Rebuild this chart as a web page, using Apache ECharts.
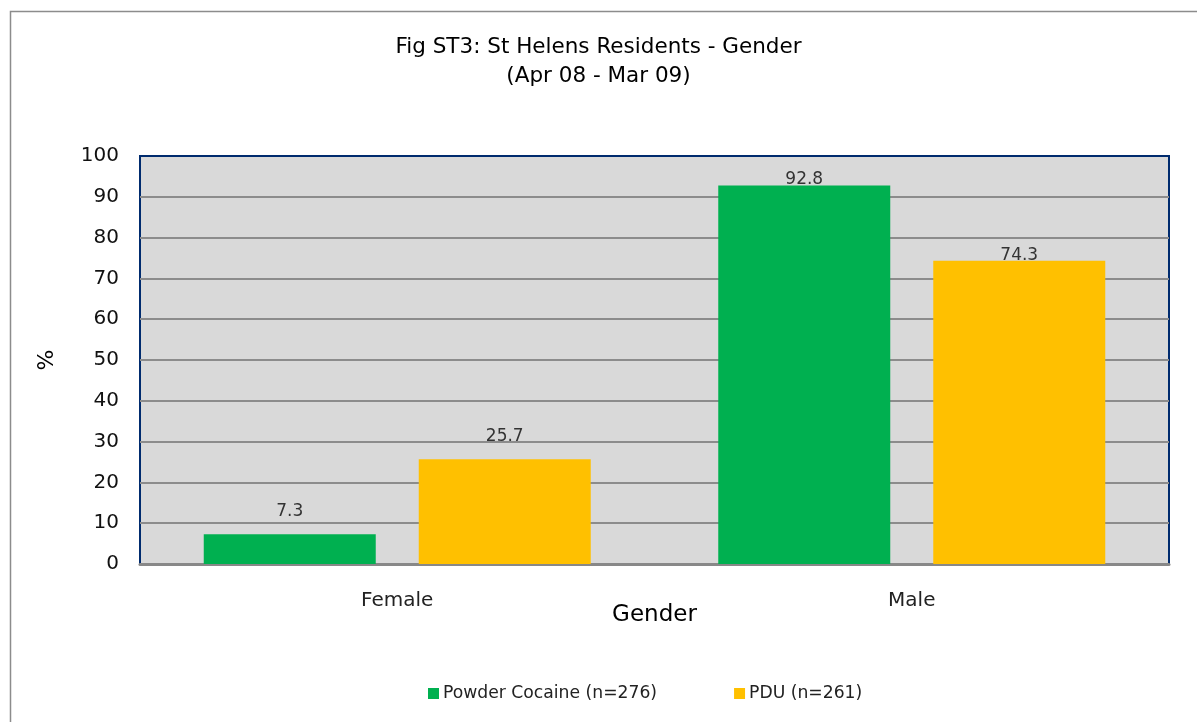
<!DOCTYPE html>
<html><head><meta charset="utf-8">
<script src="https://cdn.jsdelivr.net/npm/echarts@6/dist/echarts.min.js"></script>
<style>html,body{margin:0;padding:0;background:#fff}#c{width:1197px;height:722px}</style>
</head><body><div id="c"></div>
<script>
const categories = ['Female', 'Male'];
const seriesNames = ['Powder Cocaine (n=276)', 'PDU (n=261)'];
const cocaine = [7.3, 92.8];
const pdu = [25.7, 74.3];
const yTicks = [0, 10, 20, 30, 40, 50, 60, 70, 80, 90, 100];

const FONT = '"DejaVu Sans", sans-serif';
const labelDist = [14, -3];
function mk(vals) {
  return vals.map((v, i) => ({ value: v, label: { distance: labelDist[i] } }));
}
const chart = echarts.init(document.getElementById('c'));
chart.setOption({
  animation: false,
  textStyle: { fontFamily: FONT },
  title: {
    text: 'Fig ST3: St Helens Residents - Gender\n(Apr 08 - Mar 09)',
    left: 'center', top: 28,
    textStyle: { fontSize: 21.5, fontWeight: 'normal', color: '#000', lineHeight: 29, fontFamily: FONT }
  },
  graphic: [{
    type: 'rect', shape: { x: 10.5, y: 11.5, width: 1300, height: 800 },
    style: { fill: 'none', stroke: '#8c8c8c', lineWidth: 1.5 }, silent: true, z: -10
  }],
  legend: {
    bottom: 15, left: 423, itemGap: 77, itemWidth: 11, itemHeight: 11, itemGap: 77,
    icon: 'rect',
    textStyle: { fontSize: 17.2, color: '#222', fontFamily: FONT, padding: [0, 0, 0, -1] }
  },
  grid: {
    left: 140, top: 156, right: 28, bottom: 158,
    show: true, backgroundColor: '#d9d9d9', borderColor: '#002b6e', borderWidth: 2
  },
  xAxis: {
    type: 'category', data: categories,
    name: 'Gender', nameLocation: 'middle', nameGap: 40, nameMoveOverlap: false,
    nameTextStyle: { fontSize: 23, color: '#000', fontFamily: FONT },
    axisLine: { lineStyle: { color: '#888', width: 3 } },
    axisTick: { show: false },
    axisLabel: { fontSize: 20, color: '#222', margin: 27, fontFamily: FONT }
  },
  yAxis: {
    type: 'value', min: 0, max: 100, interval: 10,
    name: '%', nameLocation: 'middle', nameGap: 82, nameRotate: 90,
    nameTextStyle: { fontSize: 22, color: '#000', fontFamily: FONT },
    axisLine: { show: false }, axisTick: { show: false },
    axisLabel: { fontSize: 20, color: '#111', margin: 21, fontFamily: FONT,
      formatter: v => yTicks.includes(v) ? String(v) : '' },
    splitLine: { showMaxLine: false, lineStyle: { color: '#8c8c8c', width: 2 } }
  },
  series: [
    { name: seriesNames[0], type: 'bar', data: mk(cocaine), barWidth: 172, barGap: '25%',
      itemStyle: { color: '#00b050' },
      label: { show: true, position: 'top', fontSize: 17, color: '#333', fontFamily: FONT } },
    { name: seriesNames[1], type: 'bar', data: mk(pdu), barWidth: 172,
      itemStyle: { color: '#ffc000' },
      label: { show: true, position: 'top', fontSize: 17, color: '#333', fontFamily: FONT } }
  ]
});
</script></body></html>
